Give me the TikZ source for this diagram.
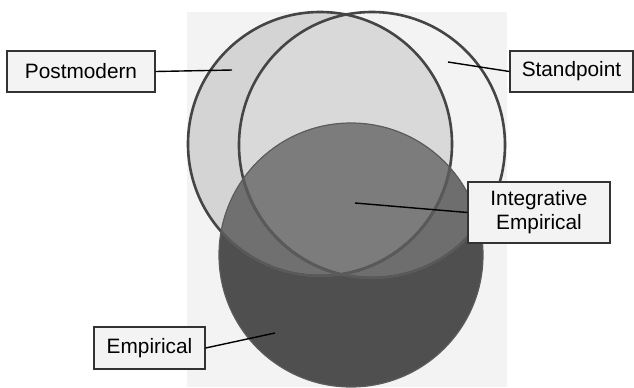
\documentclass[tikz,border=0pt]{standalone}
\usepackage{fontspec}
\setmainfont{Liberation Sans}
\usetikzlibrary{positioning}

\definecolor{panelgray}{HTML}{F3F3F3}
\definecolor{pmfill}{HTML}{D4D4D4}
\definecolor{pmspfill}{HTML}{D9D9D9}
\definecolor{emfill}{HTML}{4F4F4F}
\definecolor{empmfill}{HTML}{707070}
\definecolor{emspfill}{HTML}{6E6E6E}
\definecolor{emallfill}{HTML}{7C7C7C}
\definecolor{ringgray}{HTML}{454545}
\definecolor{ringinner}{HTML}{5A5A5A}
\definecolor{emedge}{HTML}{5C5C5C}

\begin{document}
\begin{tikzpicture}[x=0.5pt,y=-0.5pt,
  lbl/.style={draw=black!80,line width=0.6pt,fill=panelgray,inner sep=0,
              minimum height=20.5pt,align=center,font=\fontsize{10.4}{12}\selectfont},
  ring/.style={draw=ringgray,line width=1.3pt},
  lead/.style={line width=0.7pt,black}]

\useasboundingbox (0,0) rectangle (634,387);

%% grey panel behind the circles
\fill[panelgray] (187,12) rectangle (507,387);

%% circle centres
\coordinate (pm) at (320,144);
\coordinate (sp) at (372,145);
\coordinate (em) at (351,255);

%% postmodern and standpoint fills
\fill[pmfill] (pm) circle (66pt);
\begin{scope}
  \clip (pm) circle (66pt);
  \fill[pmspfill] (sp) circle (66.5pt);
\end{scope}

%% empirical circle and its overlaps
\fill[emfill] (em) circle (66pt);
\begin{scope}
  \clip (em) circle (66pt);
  \fill[empmfill] (pm) circle (66pt);
  \fill[emspfill] (sp) circle (66.5pt);
  \clip (pm) circle (66pt);
  \fill[emallfill] (sp) circle (66.5pt);
\end{scope}

%% outlines
\draw[ring] (pm) circle (66pt);
\draw[ring] (sp) circle (66.5pt);
\begin{scope}
  \clip (em) circle (66pt);
  \draw[ring,draw=ringinner] (pm) circle (66pt);
  \draw[ring,draw=ringinner] (sp) circle (66.5pt);
\end{scope}
\draw[emedge,line width=0.6pt] (em) circle (66pt);

%% label boxes
\node[lbl,minimum width=74pt] (postmod) at (81,71.5) {Postmodern};
\node[lbl,minimum width=61.5pt] (standp) at (571.5,71.5) {Standpoint};
\node[lbl,minimum width=71pt,minimum height=30.5pt] (integ) at (539,212.5) {Integrative\\Empirical};
\node[lbl,minimum width=55.5pt,minimum height=21pt] (empir) at (149.5,348) {Empirical};

%% leader lines into the regions
\coordinate (pmend) at (232,70);
\coordinate (spend) at (448,62);
\coordinate (inend) at (355,203);
\coordinate (emend) at (275,333);
\foreach \a/\b in {postmod.east/pmend, standp.west/spend, integ.west/inend, empir.east/emend}
  \draw[lead] (\a) -- (\b);
\end{tikzpicture}
\end{document}
